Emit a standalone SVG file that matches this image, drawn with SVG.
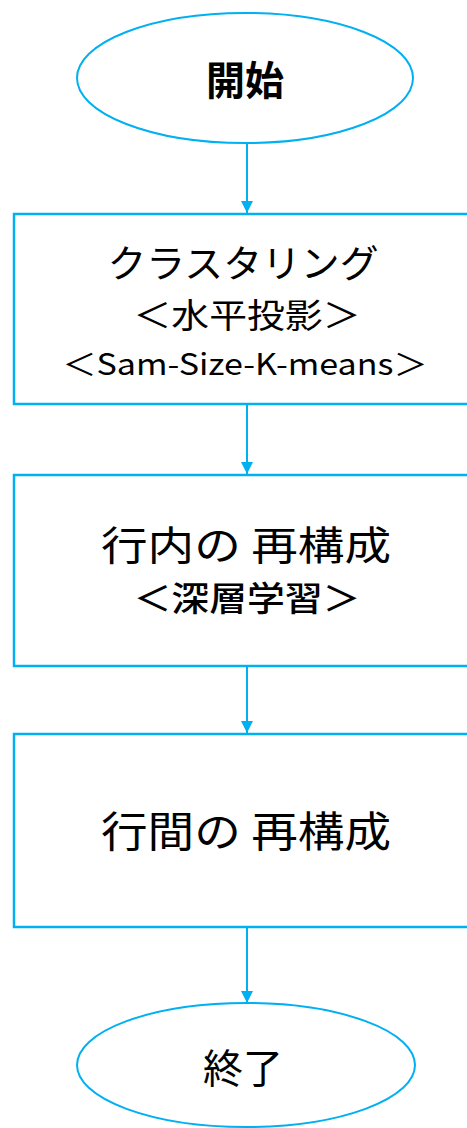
<svg xmlns="http://www.w3.org/2000/svg" width="467" height="1128" viewBox="0 0 467 1128">
<style>
.term{fill:#fff;stroke:#00B0F0;stroke-width:2}
.box{fill:#fff;stroke:#00B0F0;stroke-width:2.5}
.edge{stroke:#00B0F0;stroke-width:2;fill:none}
.head{fill:#00B0F0}
text{font-family:"Noto Sans CJK JP","Noto Sans",sans-serif;fill:#000;text-anchor:middle;dominant-baseline:central}
</style>
<rect width="467" height="1128" fill="#fff"/>
<g id="connectors">
<line class="edge" x1="247" y1="143" x2="247" y2="213"/>
<path class="head" d="M241,201 L253,201 L247,213 Z"/>
<line class="edge" x1="247" y1="404" x2="247" y2="474"/>
<path class="head" d="M241,462 L253,462 L247,474 Z"/>
<line class="edge" x1="247" y1="666" x2="247" y2="733"/>
<path class="head" d="M241,721 L253,721 L247,733 Z"/>
<line class="edge" x1="247" y1="927" x2="247" y2="1003"/>
<path class="head" d="M241,991 L253,991 L247,1003 Z"/>
</g>
<g id="start">
<ellipse class="term" cx="245" cy="78" rx="168" ry="65"/>
<text x="245" y="78" font-size="40" font-weight="bold" textLength="78" lengthAdjust="spacingAndGlyphs">開始</text>
</g>
<g id="clustering">
<rect class="box" x="14" y="214" width="460" height="190"/>
<text x="243" y="260" font-size="38" textLength="271" lengthAdjust="spacingAndGlyphs">クラスタリング</text>
<text x="247" y="313" font-size="34" textLength="227" lengthAdjust="spacingAndGlyphs">＜水平投影＞</text>
<text x="245" y="362" font-size="30" textLength="365" lengthAdjust="spacingAndGlyphs">＜Sam-Size-K-means＞</text>
</g>
<g id="intra">
<rect class="box" x="14" y="475" width="460" height="191"/>
<text x="246" y="543" font-size="40" textLength="290" lengthAdjust="spacingAndGlyphs">行内の 再構成</text>
<text x="247" y="596" font-size="34" font-weight="500" textLength="227" lengthAdjust="spacingAndGlyphs">＜深層学習＞</text>
</g>
<g id="inter">
<rect class="box" x="14" y="734" width="460" height="193"/>
<text x="246" y="828" font-size="42" textLength="290" lengthAdjust="spacingAndGlyphs">行間の 再構成</text>
</g>
<g id="end">
<ellipse class="term" cx="246" cy="1065" rx="169" ry="62"/>
<text x="243" y="1066" font-size="40" textLength="80" lengthAdjust="spacingAndGlyphs">終了</text>
</g>
</svg>
